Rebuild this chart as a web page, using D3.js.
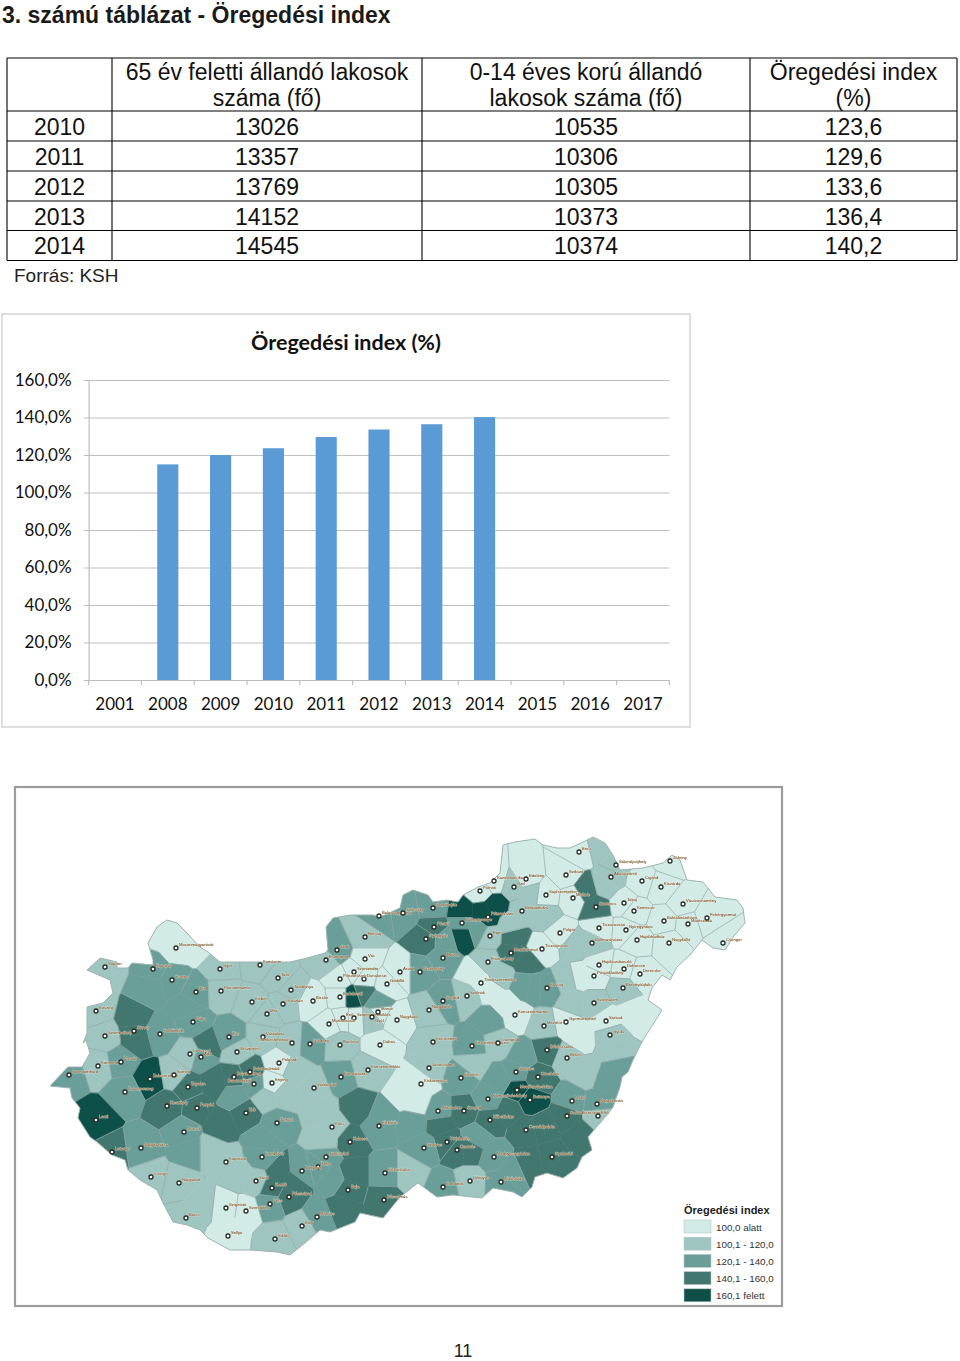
<!DOCTYPE html>
<html>
<head>
<meta charset="utf-8">
<script src="https://cdn.jsdelivr.net/npm/d3@7"></script>
<style>
  body { margin: 0; background: #fff; }
  svg { display: block; }
  .sans { font-family: "Liberation Sans", Arial, sans-serif; }
  .cal { font-family: Lato, sans-serif; }
</style>
</head>
<body>
<div id="page"></div>
<script>
// table
const tableHeader = [["", ""], ["65 év feletti állandó lakosok", "száma (fő)"], ["0-14 éves korú állandó", "lakosok száma (fő)"], ["Öregedési index", "(%)"]];
const tableYears = ["2010", "2011", "2012", "2013", "2014"];
const over65 = ["13026", "13357", "13769", "14152", "14545"];
const under14 = ["10535", "10306", "10305", "10373", "10374"];
const agingIndex = ["123,6", "129,6", "133,6", "136,4", "140,2"];

// bar chart
const chartYears = ["2001", "2008", "2009", "2010", "2011", "2012", "2013", "2014", "2015", "2016", "2017"];
const chartValues = [null, 115, 120, 123.6, 129.6, 133.6, 136.4, 140.2, null, null, null];
const chartTicks = [0, 20, 40, 60, 80, 100, 120, 140, 160];

// map legend
const legendLabels = ["100,0 alatt", "100,1 - 120,0", "120,1 - 140,0", "140,1 - 160,0", "160,1 felett"];
const classColors = ["#d2ebe7", "#9fc5c0", "#6b9e98", "#42776f", "#0f4f48"];

// country outline
const outline = [[87,970],[100,958],[117,962],[117,968],[128,968],[132,963],[153,965],[153,960],[148,943],[157,927],[167,920],[177,923],[187,933],[200,947],[208,952],[220,962],[237,962],[260,962],[277,962],[290,962],[307,958],[325,953],[328,950],[326,927],[333,918],[350,915],[373,915],[380,917],[400,908],[403,895],[413,890],[428,895],[433,902],[447,900],[458,902],[463,895],[478,887],[490,883],[500,873],[503,845],[515,842],[535,839],[543,845],[557,848],[570,848],[583,842],[593,837],[605,843],[613,855],[620,870],[643,868],[663,863],[672,855],[680,860],[687,880],[703,882],[715,897],[737,900],[743,908],[745,923],[733,937],[725,950],[713,948],[702,940],[690,955],[677,967],[670,980],[662,975],[652,988],[648,1000],[662,1010],[645,1037],[643,1040],[633,1060],[628,1072],[622,1077],[620,1087],[613,1107],[607,1115],[600,1123],[588,1137],[592,1150],[582,1157],[577,1168],[563,1178],[547,1173],[535,1177],[532,1187],[522,1197],[513,1192],[493,1188],[482,1198],[453,1195],[437,1197],[418,1183],[400,1197],[383,1218],[360,1213],[355,1222],[330,1232],[320,1230],[305,1243],[290,1255],[277,1252],[250,1250],[230,1250],[208,1238],[200,1230],[187,1225],[173,1222],[163,1203],[157,1190],[140,1180],[128,1170],[125,1160],[112,1155],[97,1142],[90,1137],[78,1118],[80,1108],[72,1098],[70,1088],[50,1086],[68,1067],[82,1067],[90,1053],[86,1040],[83,1043],[87,1033],[87,1007],[103,1003],[113,993],[110,980]];

// district seats: name, map x, map y, index class (0-4)
const seats = [
["Mosonmagyaróvár",176,948,0],["Sopron",105,967,1],["Kapuvár",153,969,2],["Csorna",172,980,2],["Győr",220,969,1],["Tét",196,992,2],["Pannonhalma",221,991,1],["Komárom",260,965,1],["Kisbér",252,1002,1],["Tata",278,978,1],["Oroszlán",283,1004,1],["Tatabánya",291,990,1],["Esztergom",326,960,1],["Szob",337,950,2],["Balassagyarmat",379,916,2],["Rétság",365,937,1],["Vác",365,959,0],["Szentendre",354,972,0],["Dunakeszi",364,979,0],["Pilisvörösvár",340,979,0],["Gödöllő",387,984,0],["Budakeszi",340,997,0],["Bicske",313,1001,0],
["Érd",343,1018,0],["Szigetszentmiklós",354,1018,0],["Martonvásár",329,1024,0],["Monor",378,1012,0],["Gyál",372,1017,1],["Dabas",380,1045,0],["Ráckeve",340,1045,1],["Nagykáta",397,1020,0],["Kőszeg",96,1011,1],["Szombathely",105,1036,1],["Sárvár",134,1031,3],["Celldömölk",160,1034,2],["Pápa",193,1022,2],["Zirc",229,1037,2],["Mór",267,1014,1],["Várpalota",263,1037,1],["Székesfehérvár",292,1043,1],["Gárdony",310,1044,2],
["Devecser",190,1054,1],["Ajka",201,1057,2],["Veszprém",237,1052,1],["Körmend",98,1066,1],["Vasvár",121,1062,2],["Szentgotthárd",69,1075,2],["Zalaszentgrót",150,1079,4],["Sümeg",174,1075,1],["Balatonfüred",234,1077,3],["Balatonalmádi",250,1072,3],["Polgárdi",279,1063,0],["Enying",272,1083,0],["Balatonfűzfő",254,1084,2],["Dunaújváros",341,1077,2],["Kunszentmiklós",368,1070,1],["Sárbogárd",314,1088,1],["Tapolca",188,1087,3],["Zalaegerszeg",125,1092,2],["Keszthely",167,1106,3],["Fonyód",197,1108,3],["Tab",246,1113,3],["Tamási",277,1123,2],["Lenti",96,1120,4],["Marcali",184,1132,2],["Paks",332,1127,1],["Kiskőrös",379,1126,2],["Letenye",112,1152,3],["Nagykanizsa",141,1148,2],["Kalocsa",350,1142,3],["Kaposvár",226,1162,1],["Dombóvár",262,1157,2],["Szekszárd",326,1157,2],["Tolna",318,1167,2],["Bonyhád",302,1171,2],["Csurgó",151,1177,1],["Nagyatád",179,1183,1],["Kiskunhalas",385,1173,2],["Sásd",256,1181,1],["Komló",272,1188,3],["Pécsvárad",289,1197,3],["Pécs",270,1204,2],["Baja",348,1190,3],["Bácsalmás",384,1200,3],["Szigetvár",226,1208,0],["Szentlőrinc",246,1211,0],["Barcs",186,1218,1],["Sellye",228,1236,0],["Mohács",317,1217,2],["Bóly",302,1226,1],["Siklós",275,1239,1],
["Szécsény",403,913,2],["Salgótarján",433,908,2],["Putnok",480,891,0],["Kazincbarcika",494,881,0],["Ózd",514,887,1],["Edelény",526,879,0],["Sajószentpéter",546,895,0],["Szikszó",566,875,0],["Encs",579,852,0],["Miskolc",573,898,0],["Bélapátfalva",522,911,1],["Pétervására",488,917,4],["Bátonyterenye",462,923,2],["Pásztó",434,927,3],["Gyöngyös",426,939,3],["Eger",490,936,1],["Hatvan",443,958,2],["Jászberény",420,972,2],["Aszód",400,972,0],["Füzesabony",488,962,1],["Mezőkövesd",511,953,3],["Tiszaújváros",542,949,0],["Polgár",560,933,0],["Balmazújváros",592,943,1],["Tiszavasvári",599,928,0],["Nyíregyháza",626,930,0],["Szerencs",596,907,3],["Abaújszántó",611,877,1],["Sátoraljaújhely",616,865,1],["Cigánd",642,881,0],["Záhony",670,861,0],["Kisvárda",661,887,0],["Tokaj",624,903,0],["Kemecse",634,911,0],["Vásárosnamény",683,904,0],["Baktalórántháza",664,921,0],["Mátészalka",688,924,0],["Fehérgyarmat",707,918,0],["Csenger",723,943,0],["Hajdúhadház",637,940,0],["Nagykálló",669,943,0],["Hajdúszoboszló",599,965,0],["Debrecen",624,969,0],["Derecske",640,974,0],["Püspökladány",594,976,0],["Karcag",547,988,2],["Berettyóújfalu",623,988,1],["Szeghalom",594,1003,1],["Sarkad",606,1021,0],["Gyomaendrőd",566,1022,0],["Gyula",610,1035,1],["Mezőtúr",544,1026,1],["Kunszentmárton",515,1015,0],["Törökszentmiklós",481,983,0],["Szolnok",467,996,1],["Cegléd",443,1001,2],["Nagykőrös",429,1010,1],["Kecskemét",433,1042,1],["Kiskunfélegyháza",472,1046,2],["Csongrád",498,1043,1],
["Jánoshalma",429,1068,1],["Kistelek",461,1078,2],["Kiskunmajsa",421,1084,0],["Mórahalom",438,1111,2],["Szeged",464,1111,3],["Hódmezővásárhely",488,1099,2],["Szentes",516,1072,2],["Orosháza",538,1077,3],["Békéscsaba",547,1050,3],["Békés",567,1058,1],["Mezőkovácsháza",517,1090,4],["Battonya",530,1100,4],["Makó",572,1101,2],["Nagyszénás",597,1104,2],["Sarkadkeresztúr",567,1116,3],["Elek",598,1116,1],["Kübekháza",490,1120,3],["Csanádpalota",526,1130,3],["Tótkomlós",447,1142,3],["Szarvas",424,1148,2],["Csorvás",457,1150,3],["Medgyesegyháza",494,1157,2],["Gyulavári",552,1157,3],["Kondoros",443,1187,2],["Újkígyós",470,1181,1],["Lökösháza",501,1182,2]
];

// extra points that shape the districts, no marker
const shapePoints = [
[352,997,4],[363,993,3],[377,1003,2],[133,1020,3],[137,1040,3],[207,1045,3],[150,987,2],[187,1007,2],[358,1107,3],[353,1173,3],[343,1207,3],[383,1117,2],[263,1140,2],[333,1180,2],[279,1173,3],[293,1183,3],[462,912,4],[462,935,4],[483,913,4],[495,906,4],[513,937,3],[527,962,3],[586,890,3],[600,847,1],[580,977,0],[567,980,1],[573,1003,1],[533,987,2],[490,1020,2],[633,1013,0],[580,1037,0],[420,1080,0],[417,1103,0],[473,1063,1],[500,1080,2],[523,1057,2],[587,1073,1],[543,1127,3],[560,1167,3],[530,1163,3],[477,1137,2],[413,1123,2],[410,1173,1],[613,1050,1],[433,1050,1],[607,1080,2],[617,1070,2],[195,945,0],[165,935,0],[92,985,1],[230,1230,0],[200,1205,1],
[545,915,1],[530,893,1],[510,925,1],[605,885,1],[575,945,1],[475,975,0],[490,990,0],[500,975,1],[525,985,2],[505,1005,0],[405,1095,0],[210,1150,1],[240,1175,1],[190,1150,2],[220,1125,3],[235,1095,2],[215,1082,3],[285,1095,1],[265,1098,1],[295,1070,1],[320,1110,1],[325,1140,1],[440,1125,3],[510,1110,3],[580,1135,3],[510,1172,2],[470,1150,3],[478,930,2],[445,940,2]
];

// labels that read better on the left of, or under, their marker
const leftLabels = ["Székesfehérvár", "Balatonfűzfő"];
const belowLabels = ["Gyál"];

const width = 960, height = 1361;
const svg = d3.select("#page").append("svg").attr("width", width).attr("height", height);

svg.append("text").attr("class", "sans").attr("x", 2).attr("y", 23)
  .attr("font-size", 23).attr("font-weight", "bold").attr("fill", "#1a1a1a")
  .text("3. számú táblázat - Öregedési index");

// ---- table
const colEdges = [7, 112, 422, 750, 957];
const rowEdges = [58, 111, 141, 171, 201, 230.5, 260.5];
const table = svg.append("g").attr("class", "sans").attr("fill", "#111").attr("font-size", 23);

table.selectAll("line.h").data(rowEdges).join("line")
  .attr("x1", colEdges[0]).attr("x2", colEdges[4]).attr("y1", d => d).attr("y2", d => d)
  .attr("stroke", "#000").attr("stroke-width", 1.1);
table.selectAll("line.v").data(colEdges).join("line")
  .attr("y1", rowEdges[0]).attr("y2", rowEdges[6]).attr("x1", d => d).attr("x2", d => d)
  .attr("stroke", "#000").attr("stroke-width", 1.1);

const colMid = i => (colEdges[i] + colEdges[i + 1]) / 2;
tableHeader.forEach((lines, c) => {
  lines.forEach((t, l) => {
    table.append("text").attr("x", colMid(c)).attr("y", 80 + l * 26)
      .attr("text-anchor", "middle").text(t);
  });
});
tableYears.forEach((yr, r) => {
  const row = [yr, over65[r], under14[r], agingIndex[r]];
  row.forEach((t, c) => {
    table.append("text").attr("x", colMid(c)).attr("y", rowEdges[r + 1] + 23.7)
      .attr("text-anchor", "middle").text(t);
  });
});
svg.append("text").attr("class", "sans").attr("x", 14).attr("y", 282)
  .attr("font-size", 19).attr("fill", "#222").text("Forrás: KSH");

// ---- bar chart
svg.append("rect").attr("x", 2).attr("y", 314).attr("width", 688).attr("height", 413)
  .attr("fill", "#fff").attr("stroke", "#d4d4d4").attr("stroke-width", 1.5);
svg.append("text").attr("class", "cal").attr("x", 346).attr("y", 350)
  .attr("text-anchor", "middle").attr("font-size", 21.5).attr("font-weight", "bold")
  .attr("fill", "#111").text("Öregedési index (%)");

const xBand = d3.scaleBand().domain(chartYears).range([88.6, 669.4]).paddingInner(0.6).paddingOuter(0.3);
const yVal = d3.scaleLinear().domain([0, 160]).range([680, 380]);

const yAxis = svg.append("g").attr("class", "cal").attr("transform", "translate(88.6,0)")
  .call(d3.axisLeft(yVal).tickValues(chartTicks).tickSize(0).tickPadding(17)
    .tickFormat(d => d.toFixed(1).replace(".", ",") + "%"));
yAxis.select(".domain").attr("stroke", "#bdbdbd").attr("stroke-width", 1.2);
yAxis.selectAll(".tick line").attr("x1", -5).attr("x2", 669.4 - 88.6)
  .attr("stroke", "#c0c0c0").attr("stroke-width", 1.2);
yAxis.selectAll(".tick text").attr("font-size", 17).attr("fill", "#111").attr("font-family", "Lato");

svg.selectAll("rect.bar").data(chartYears.map((y, i) => ({ y, v: chartValues[i] })).filter(d => d.v !== null))
  .join("rect").attr("class", "bar")
  .attr("x", d => xBand(d.y)).attr("width", xBand.bandwidth())
  .attr("y", d => yVal(d.v)).attr("height", d => yVal(0) - yVal(d.v))
  .attr("fill", "#5b9bd5");

const xAxis = svg.append("g").attr("class", "cal").attr("transform", "translate(0,680)")
  .call(d3.axisBottom(xBand).tickSize(0).tickPadding(18));
xAxis.select(".domain").attr("stroke", "#bdbdbd").attr("stroke-width", 1.2);
xAxis.selectAll(".tick text").attr("font-size", 17).attr("fill", "#111").attr("font-family", "Lato");
// ticks sit between the categories
const step = xBand.step();
svg.selectAll("line.xt").data(d3.range(chartYears.length + 1)).join("line")
  .attr("x1", d => 88.6 + d * step).attr("x2", d => 88.6 + d * step)
  .attr("y1", 680).attr("y2", 685).attr("stroke", "#bdbdbd").attr("stroke-width", 1.2);

// ---- map
const defs = svg.append("defs");
defs.append("filter").attr("id", "soft").append("feGaussianBlur").attr("stdDeviation", 0.5);
const mapX = d3.scaleLinear().domain([0, 960]).range([0, 960]);
const mapY = d3.scaleLinear().domain([787, 1306]).range([787, 1306]);
const outlinePath = d3.line().x(d => mapX(d[0])).y(d => mapY(d[1])).curve(d3.curveLinearClosed)(outline);
defs.append("clipPath").attr("id", "hu").append("path").attr("d", outlinePath);

svg.append("rect").attr("x", 15).attr("y", 787).attr("width", 767).attr("height", 519)
  .attr("fill", "#fff").attr("stroke", "#9c9c9c").attr("stroke-width", 2.2);

const seeds = seats.map(d => ({ name: d[0], x: d[1], y: d[2], cls: d[3], seat: true }))
  .concat(shapePoints.map(d => ({ name: null, x: d[0], y: d[1], cls: d[2], seat: false })));
const delaunay = d3.Delaunay.from(seeds, d => mapX(d.x), d => mapY(d.y));
const voronoi = delaunay.voronoi([0, 780, 800, 1310]);

const mapG = svg.append("g").attr("filter", "url(#soft)");
const cells = mapG.append("g").attr("clip-path", "url(#hu)");
cells.selectAll("path.cell").data(seeds).join("path").attr("class", "cell")
  .attr("d", (d, i) => voronoi.renderCell(i))
  .attr("fill", d => classColors[d.cls])
  .attr("stroke", d => classColors[d.cls]).attr("stroke-width", 0.6);

// borders only between different districts
const borders = [];
seeds.forEach((a, i) => {
  for (const j of voronoi.neighbors(i)) {
    if (j <= i) continue;
    const b = seeds[j];
    if (a.cls === b.cls && (!a.seat || !b.seat)) continue;
    const pa = voronoi.cellPolygon(i), pb = voronoi.cellPolygon(j);
    if (!pa || !pb) continue;
    const common = pa.slice(1).filter(p => pb.some(q => Math.abs(q[0] - p[0]) < 1e-6 && Math.abs(q[1] - p[1]) < 1e-6));
    if (common.length === 2) borders.push(common);
  }
});
cells.selectAll("line.border").data(borders).join("line").attr("class", "border")
  .attr("x1", d => d[0][0]).attr("y1", d => d[0][1]).attr("x2", d => d[1][0]).attr("y2", d => d[1][1])
  .attr("stroke", "#8fa9a6").attr("stroke-width", 0.7);

mapG.append("path").attr("d", outlinePath)
  .attr("fill", "none").attr("stroke", "#9db3b0").attr("stroke-width", 1);

const seatG = mapG.selectAll("g.seat").data(seeds.filter(d => d.seat)).join("g").attr("class", "seat")
  .attr("transform", d => `translate(${mapX(d.x)},${mapY(d.y)})`);
seatG.append("circle").attr("r", 2).attr("fill", "#fff").attr("stroke", "#2a2a24").attr("stroke-width", 1.3);
seatG.append("text").attr("class", "sans")
  .attr("x", d => leftLabels.includes(d.name) ? -3 : 3)
  .attr("y", d => belowLabels.includes(d.name) ? 5 : -2)
  .attr("font-size", 4.2)
  .attr("text-anchor", d => leftLabels.includes(d.name) ? "end" : "start")
  .attr("fill", "#5a3a20").attr("stroke", "#f3e7cf").attr("stroke-width", 0.5).attr("paint-order", "stroke")
  .text(d => d.name);

// legend
svg.append("text").attr("class", "sans").attr("x", 684).attr("y", 1214)
  .attr("font-size", 11).attr("font-weight", "bold").attr("fill", "#222").text("Öregedési index");
const legY = d3.scaleBand().domain(legendLabels).range([1220, 1306]).padding(0);
const leg = svg.selectAll("g.leg").data(legendLabels).join("g").attr("class", "leg")
  .attr("transform", d => `translate(684,${legY(d)})`);
leg.append("rect").attr("width", 27).attr("height", 13).attr("fill", (d, i) => classColors[i])
  .attr("stroke", "#b9c9c6").attr("stroke-width", 0.6);
leg.append("text").attr("class", "sans").attr("x", 32).attr("y", 10.5).attr("font-size", 9.8)
  .attr("fill", "#333").text(d => d);

svg.append("text").attr("class", "sans").attr("x", 463).attr("y", 1357)
  .attr("text-anchor", "middle").attr("font-size", 18).attr("fill", "#222").text("11");
</script>
</body>
</html>
